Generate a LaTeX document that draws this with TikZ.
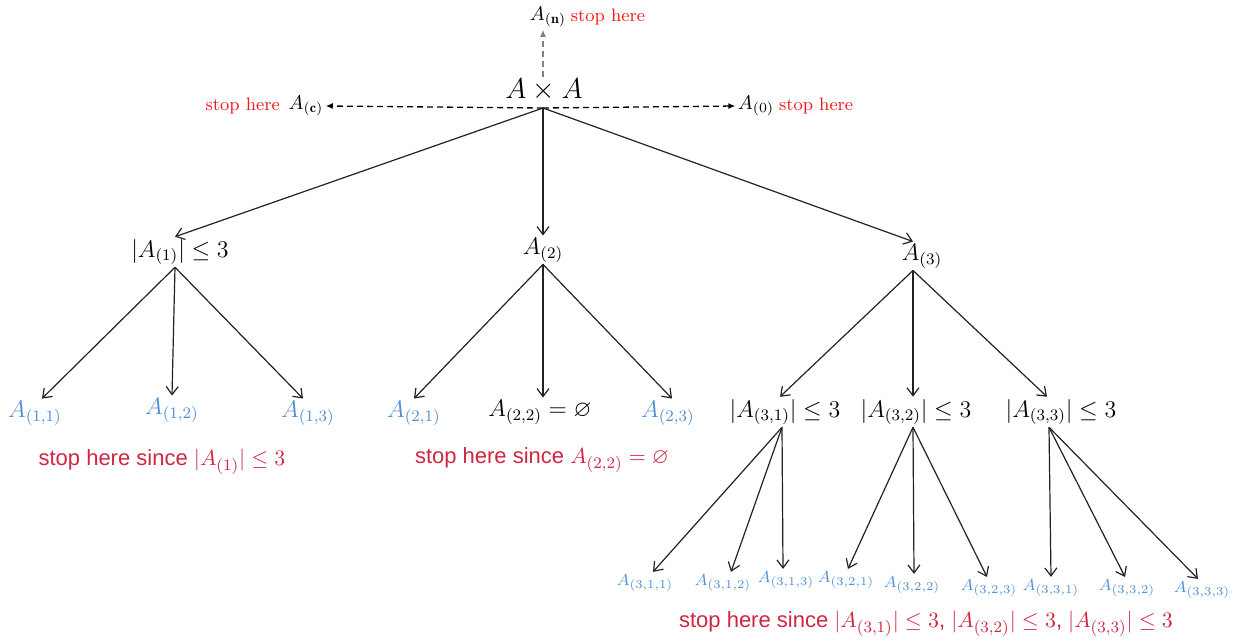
\documentclass[tikz,border=0pt]{standalone}
\usepackage{amssymb}
\usepackage{fontspec}
\usetikzlibrary{arrows.meta,calc}
\newfontfamily\redsans{Liberation Sans}
\definecolor{setblue}{HTML}{4F8FD6}
\definecolor{stopred}{HTML}{D02642}
\definecolor{topred}{HTML}{F21818}
\definecolor{edgegray}{HTML}{222222}

\begin{document}
\begin{tikzpicture}[x=.5pt,y=-.5pt,
    every node/.style={inner sep=1pt},
    lvl/.style={font=\fontsize{11.5}{14}\selectfont},
    leaf/.style={lvl,color=setblue},
    deep/.style={font=\fontsize{8.5}{10}\selectfont,color=setblue},
    stopnote/.style={font=\redsans\fontsize{11}{13}\selectfont,color=stopred},
    stoptop/.style={font=\fontsize{9}{11}\selectfont,color=topred},
    branch/.style={draw=edgegray,line width=.6pt,-{Straight Barb[length=4pt,width=6pt]}},
    sidearrow/.style={dash pattern=on 3pt off 2pt,line width=.65pt,-{Latex[length=3.5pt,width=3pt]}}]
    \useasboundingbox (0,0) rectangle (1238,643);
    \node[font=\fontsize{14}{16}\selectfont] (axa) at (544,90) {$A\times A$};
    \coordinate (root) at (543,108);
    \node (an) at (548,17) {$A_{(\mathbf{n})}$};
    \node[stoptop,anchor=west] (stopn) at (an.east) {stop here};
    \node (ac) at (306,106) {$A_{(\mathbf{c})}$};
    \node[stoptop,anchor=east] (stopc) at ([xshift=-2pt]ac.west) {stop here};
    \node (azero) at (756,106) {$A_{(0)}$};
    \node[stoptop,anchor=west] (stopz) at (azero.east) {stop here};
    \draw[sidearrow,gray] (root |- axa.north) -- (root |- an.south);
    \draw[sidearrow] (root) -- (ac.east);
    \draw[sidearrow] (root) -- (azero.west);

    \node[lvl] (l1) at (180,252) {$|A_{(1)}|\le 3$};
    \node[lvl] (l2) at (543,250) {$A_{(2)}$};
    \node[lvl] (l3) at (922,256) {$A_{(3)}$};
    \draw[branch] (root) -- ([xshift=-2.5pt]l1.north);
    \draw[branch] (root) -- (l2.north);
    \draw[branch] (root) -- ([xshift=-4.5pt]l3.north);

    \node[leaf] (n11) at (35,413) {$A_{(1,1)}$};
    \node[leaf] (n12) at (172,410) {$A_{(1,2)}$};
    \node[leaf] (n13) at (308,413) {$A_{(1,3)}$};
    \node[leaf] (n21) at (414,413) {$A_{(2,1)}$};
    \node[lvl] (n22) at (540,412) {$A_{(2,2)}=\varnothing$};
    \node[leaf] (n23) at (668,413) {$A_{(2,3)}$};
    \node[lvl] (n31) at (785,412) {$|A_{(3,1)}|\le 3$};
    \node[lvl] (n32) at (916,412) {$|A_{(3,2)}|\le 3$};
    \node[lvl] (n33) at (1061,412) {$|A_{(3,3)}|\le 3$};
    \foreach \c/\s in {n11/3.5pt,n12/0pt,n13/-2.5pt}
      \draw[branch] ([xshift=-2.5pt]l1.south) -- ([xshift=\s]\c.north);
    \foreach \c/\s in {n21/0pt,n22/1.5pt,n23/2pt}
      \draw[branch] (l2.south) -- ([xshift=\s]\c.north);
    \foreach \c/\s in {n31/-2.5pt,n32/-1.5pt,n33/-7pt}
      \draw[branch] ([xshift=-4.5pt]l3.south) -- ([xshift=\s]\c.north);

    \node[deep] (m311) at (645,583) {$A_{(3,1,1)}$};
    \node[deep] (m312) at (723,583) {$A_{(3,1,2)}$};
    \node[deep] (m313) at (786,580) {$A_{(3,1,3)}$};
    \node[deep] (m321) at (846,580) {$A_{(3,2,1)}$};
    \node[deep] (m322) at (912,585) {$A_{(3,2,2)}$};
    \node[deep] (m323) at (989,588) {$A_{(3,2,3)}$};
    \node[deep] (m331) at (1051,588) {$A_{(3,3,1)}$};
    \node[deep] (m332) at (1127,588) {$A_{(3,3,2)}$};
    \node[deep] (m333) at (1202,590) {$A_{(3,3,3)}$};
    \foreach \c/\s in {m311/4pt,m312/4pt,m313/-1.5pt}
      \draw[branch] ([xshift=-1.5pt]n31.south) -- ([xshift=\s]\c.north);
    \foreach \c/\s in {m321/1pt,m322/1pt,m323/-1pt}
      \draw[branch] ([xshift=-1.5pt]n32.south) -- ([xshift=\s]\c.north);
    \foreach \c/\s in {m331/0pt,m332/-1pt,m333/-2pt}
      \draw[branch] ([xshift=-6pt]n33.south) -- ([xshift=\s]\c.north);

    \node[stopnote] (why1) at (162,462) {stop here since $|A_{(1)}|\le 3$};
    \node[stopnote] (why2) at (542,460) {stop here since $A_{(2,2)}=\varnothing$};
    \node[stopnote] (why3) at (926,624) {stop here since $|A_{(3,1)}|\le 3$, $|A_{(3,2)}|\le 3$, $|A_{(3,3)}|\le 3$};
  \end{tikzpicture}
\end{document}
